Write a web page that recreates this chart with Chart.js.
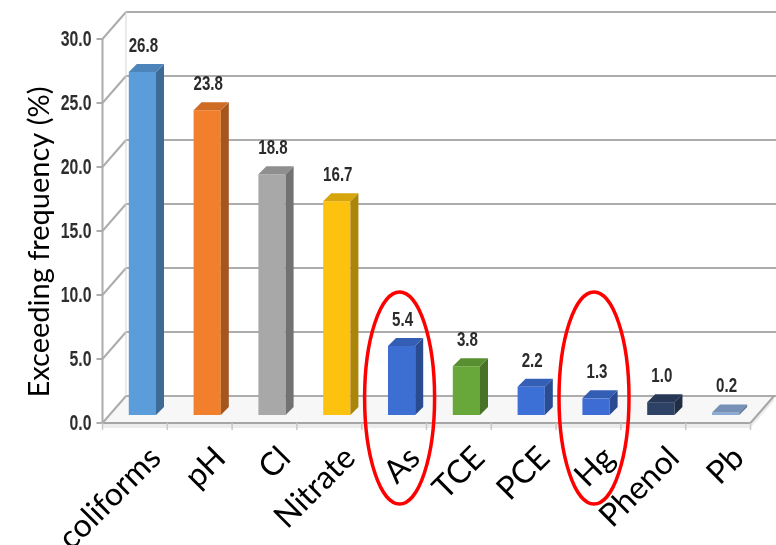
<!DOCTYPE html>
<html>
<head>
<meta charset="utf-8">
<script src="https://cdn.jsdelivr.net/npm/chart.js@4.4.1/dist/chart.umd.min.js"></script>
<style>
  html, body { margin: 0; padding: 0; background: #ffffff; }
  canvas { display: block; }
</style>
</head>
<body>
<canvas id="chart" width="776" height="545"></canvas>
<script>
// Exceedance of groundwater quality standards, by parameter
const categories = ['coliforms', 'pH', 'Cl', 'Nitrate', 'As', 'TCE', 'PCE', 'Hg', 'Phenol', 'Pb'];
const exceedingFrequency = [26.8, 23.8, 18.8, 16.7, 5.4, 3.8, 2.2, 1.3, 1.0, 0.2];
const yTickValues = [0, 5, 10, 15, 20, 25, 30];
const circledCategories = ['As', 'Hg'];
const axisTitle = 'Exceeding frequency (%)';

// front-face colour of each bar
const barColors = ['#5b9ddb', '#f27f2c', '#a8a8a8', '#fcc20e', '#3d6fd2',
                   '#68a83a', '#3c70d6', '#3d6dd4', '#2e4266', '#8aaad6'];

// 3D projection offsets relative to the bar plane
const FRONT = { dx: -7.5, dy: 8 };
const BACK = { dx: 16, dy: -19 };
const BAR_DEPTH = { dx: 8, dy: -8 };

// condensed bold numerals: a bold grotesque squeezed horizontally
const NUM_FONT = "'Liberation Sans', Arial, sans-serif";
const NUM_SQUEEZE = 0.72;

function shade(hex, f) {
  const n = parseInt(hex.slice(1), 16);
  const r = Math.round(((n >> 16) & 255) * f);
  const g = Math.round(((n >> 8) & 255) * f);
  const b = Math.round((n & 255) * f);
  return `rgb(${r},${g},${b})`;
}

function poly(ctx, pts) {
  ctx.beginPath();
  ctx.moveTo(pts[0][0], pts[0][1]);
  for (let i = 1; i < pts.length; i++) ctx.lineTo(pts[i][0], pts[i][1]);
  ctx.closePath();
}

function condensedText(ctx, text, x, y, size, align, baseline, color) {
  ctx.save();
  ctx.translate(x, y);
  ctx.scale(NUM_SQUEEZE, 1);
  ctx.font = `bold ${size}px ${NUM_FONT}`;
  ctx.fillStyle = color;
  ctx.textAlign = align;
  ctx.textBaseline = baseline;
  ctx.fillText(text, 0, 0);
  ctx.restore();
}

const frame3d = {
  id: 'frame3d',
  beforeDatasetsDraw(chart) {
    const { ctx, chartArea: a, scales: { x, y } } = chart;
    const y0 = y.getPixelForValue(0);
    const fx = a.left + FRONT.dx;
    const bx = a.left + BACK.dx;
    const fr = a.right + FRONT.dx;
    const br = a.right + BACK.dx;
    ctx.save();

    // floor and its slab edge
    ctx.fillStyle = '#f7f7f7';
    poly(ctx, [[fx, y0 + FRONT.dy], [fr, y0 + FRONT.dy], [br, y0 + BACK.dy], [bx, y0 + BACK.dy]]);
    ctx.fill();
    ctx.fillStyle = '#ececec';
    poly(ctx, [[fx, y0 + FRONT.dy], [fr, y0 + FRONT.dy], [br, y0 + BACK.dy], [br, y0 + BACK.dy + 5], [fr, y0 + FRONT.dy + 5], [fx, y0 + FRONT.dy + 5]]);
    ctx.fill();

    // back wall gridlines and side-wall diagonals
    ctx.strokeStyle = '#acacac';
    ctx.lineWidth = 2;
    y.ticks.forEach(t => {
      const yy = y.getPixelForValue(t.value);
      ctx.beginPath();
      ctx.moveTo(bx, yy + BACK.dy);
      ctx.lineTo(chart.width, yy + BACK.dy);
      ctx.moveTo(fx, yy + FRONT.dy);
      ctx.lineTo(bx, yy + BACK.dy);
      ctx.stroke();
      ctx.beginPath();
      ctx.moveTo(fx - 6, yy + FRONT.dy);
      ctx.lineTo(fx, yy + FRONT.dy);
      ctx.stroke();
      // tick label on the front plane
      condensedText(ctx, Number(t.value).toFixed(1), fx - 11, yy + FRONT.dy + 1, 22, 'right', 'middle', '#2e2e2e');
    });

    // left wall edges
    const yTop = y.getPixelForValue(y.max);
    ctx.strokeStyle = '#acacac';
    ctx.lineWidth = 2;
    ctx.beginPath();
    ctx.moveTo(fx, y0 + FRONT.dy);
    ctx.lineTo(fx, yTop + FRONT.dy);
    ctx.stroke();
    ctx.strokeStyle = '#d4d4d4';
    ctx.lineWidth = 1;
    ctx.beginPath();
    ctx.moveTo(bx, y0 + BACK.dy);
    ctx.lineTo(bx, yTop + BACK.dy);
    ctx.stroke();

    // floor front edge, right edge and category ticks
    ctx.strokeStyle = '#a6a6a6';
    ctx.lineWidth = 2;
    ctx.beginPath();
    ctx.moveTo(fx, y0 + FRONT.dy);
    ctx.lineTo(fr, y0 + FRONT.dy);
    ctx.lineTo(br, y0 + BACK.dy);
    ctx.stroke();
    ctx.strokeStyle = '#c8c8c8';
    ctx.lineWidth = 1.5;
    const half = (x.getPixelForValue(1) - x.getPixelForValue(0)) / 2;
    for (let i = 0; i <= categories.length; i++) {
      const cx = x.getPixelForValue(i) - half + FRONT.dx;
      ctx.beginPath();
      ctx.moveTo(cx, y0 + FRONT.dy);
      ctx.lineTo(cx, y0 + FRONT.dy + 7);
      ctx.stroke();
    }
    ctx.restore();
  },

  afterDatasetsDraw(chart) {
    const { ctx } = chart;
    const meta = chart.getDatasetMeta(0);
    ctx.save();
    meta.data.forEach((bar, i) => {
      const { x, y, base, width } = bar.getProps(['x', 'y', 'base', 'width'], true);
      const l = x - width / 2, r = x + width / 2;
      const c = barColors[i];
      // side face
      ctx.fillStyle = shade(c, 0.68);
      poly(ctx, [[r, y], [r + BAR_DEPTH.dx, y + BAR_DEPTH.dy], [r + BAR_DEPTH.dx, base + BAR_DEPTH.dy], [r, base]]);
      ctx.fill();
      // top face
      ctx.fillStyle = shade(c, 0.85);
      poly(ctx, [[l, y], [l + BAR_DEPTH.dx, y + BAR_DEPTH.dy], [r + BAR_DEPTH.dx, y + BAR_DEPTH.dy], [r, y]]);
      ctx.fill();
      // value label
      condensedText(ctx, exceedingFrequency[i].toFixed(1), x + 1, y + BAR_DEPTH.dy - 12, 21, 'center', 'alphabetic', '#2b2b2b');
    });
    ctx.restore();
  },

  afterDraw(chart) {
    const { ctx, chartArea: a, scales: { x } } = chart;
    ctx.save();
    // circled parameters
    ctx.strokeStyle = '#ff0000';
    ctx.lineWidth = 3.5;
    circledCategories.forEach(name => {
      const cx = x.getPixelForValue(categories.indexOf(name)) - 2;
      ctx.beginPath();
      ctx.ellipse(cx, a.bottom - 17, 35, 106, 0, 0, Math.PI * 2);
      ctx.stroke();
    });
    // vertical axis title
    ctx.fillStyle = '#000000';
    ctx.font = "29px Lato, 'Open Sans', sans-serif";
    ctx.textAlign = 'center';
    ctx.textBaseline = 'middle';
    ctx.translate(40, 242);
    ctx.rotate(-Math.PI / 2);
    ctx.fillText(axisTitle, 0, 0);
    ctx.restore();
  }
};

new Chart(document.getElementById('chart'), {
  type: 'bar',
  data: {
    labels: categories,
    datasets: [{
      data: exceedingFrequency,
      backgroundColor: barColors,
      borderWidth: 0,
      categoryPercentage: 1,
      barPercentage: 0.42
    }]
  },
  options: {
    responsive: false,
    animation: false,
    layout: { padding: { top: 31, right: 18, left: 0, bottom: 0 } },
    plugins: { legend: { display: false }, tooltip: { enabled: false } },
    scales: {
      x: {
        grid: { display: false, drawTicks: false },
        border: { display: false },
        ticks: {
          autoSkip: false,
          minRotation: 45,
          maxRotation: 45,
          labelOffset: 13,
          padding: 24,
          color: '#000000',
          font: { family: "Lato, 'Open Sans', sans-serif", size: 32 }
        },
        afterFit(scale) {
          scale.height = 130;
          scale.paddingLeft = 0;
          scale.paddingRight = 0;
        }
      },
      y: {
        min: 0,
        max: 30,
        grid: { display: false, drawTicks: false },
        border: { display: false },
        afterBuildTicks(scale) {
          scale.ticks = yTickValues.map(v => ({ value: v }));
        },
        ticks: { display: false },
        afterFit(scale) {
          scale.width = 110;
        }
      }
    }
  },
  plugins: [frame3d]
});
</script>
</body>
</html>
